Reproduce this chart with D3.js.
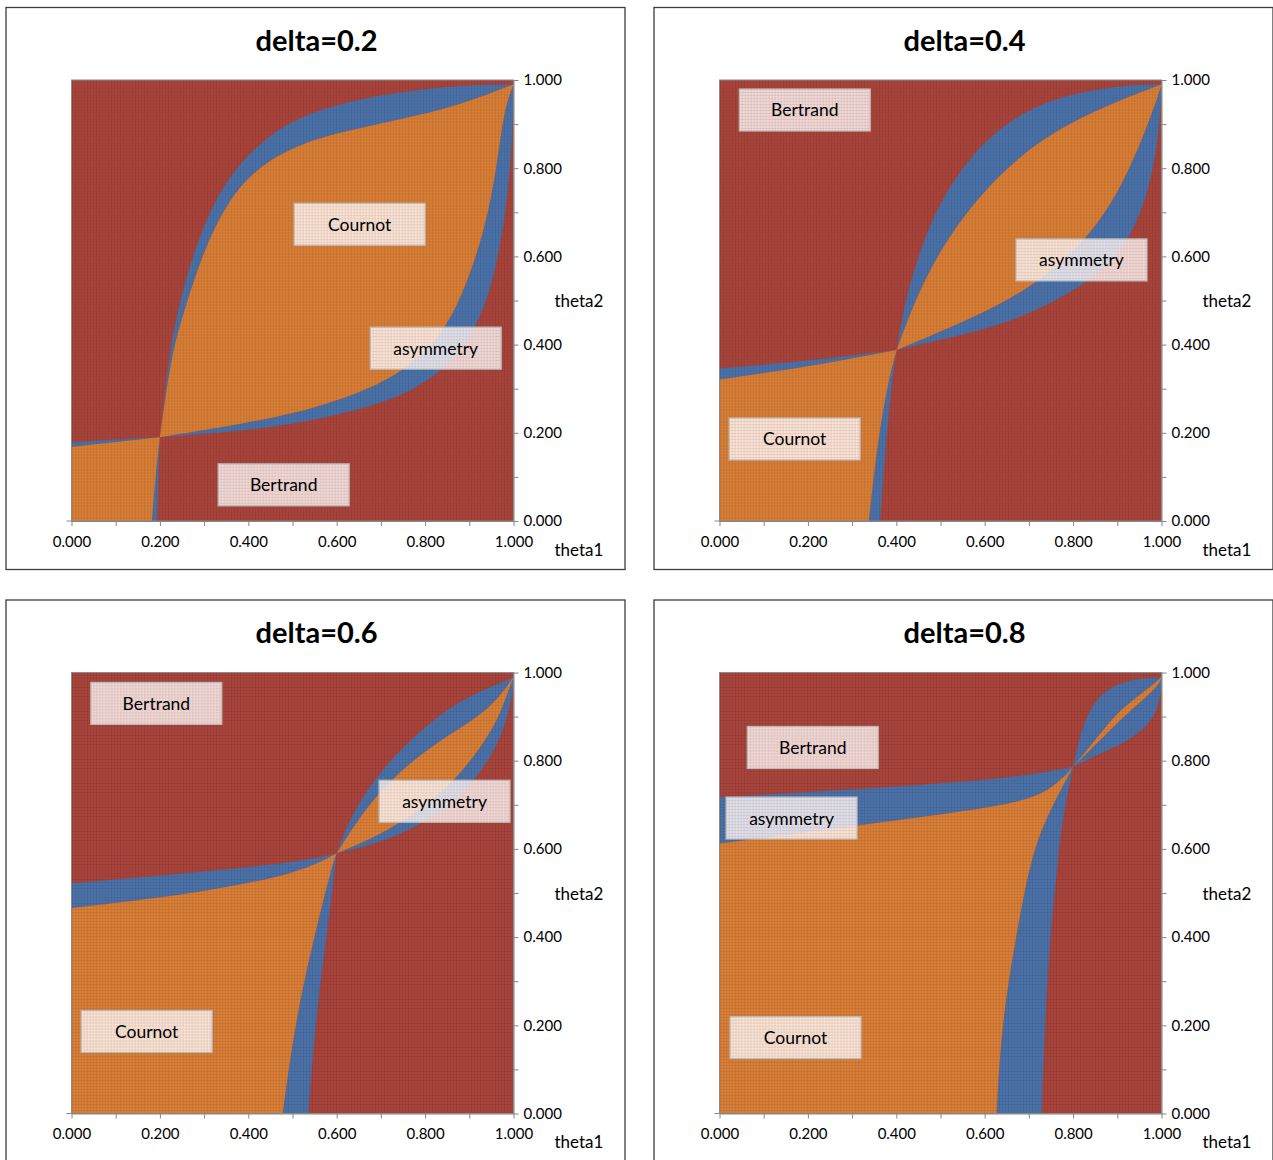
<!DOCTYPE html>
<html>
<head>
<meta charset="utf-8">
<script src="https://cdn.jsdelivr.net/npm/d3@7"></script>
<style>
  body { margin: 0; background: #fff; }
  svg text { font-family: Lato, 'Open Sans', sans-serif; fill: #000; }
</style>
</head>
<body>
<svg id="chart" width="1273" height="1160"></svg>
<script>
const titles = ['delta=0.2', 'delta=0.4', 'delta=0.6', 'delta=0.8'];
const axisTicks = [0, 0.1, 0.2, 0.3, 0.4, 0.5, 0.6, 0.7, 0.8, 0.9, 1.0];
const axisLabelTicks = [0, 0.2, 0.4, 0.6, 0.8, 1.0];
const regionNames = ['Cournot', 'asymmetry', 'Bertrand'];

// band edges, [theta1, theta2]
// row band: from theta1 = 0 through the crossing to the top right corner
// col band: from theta2 = 0 through the crossing to the top right corner
const d02Cross = [0.2, 0.19];
const d02RowLow = [[0, 0.168], [0.1, 0.179], [0.2, 0.19], [0.4, 0.205], [0.55, 0.228], [0.7, 0.265], [0.8, 0.31], [0.88, 0.38], [0.93, 0.47], [0.96, 0.57], [0.983, 0.7], [0.997, 0.85], [1, 0.99]];
const d02RowHigh = [[0, 0.178], [0.1, 0.185], [0.2, 0.19], [0.4, 0.222], [0.55, 0.255], [0.68, 0.3], [0.78, 0.36], [0.85, 0.44], [0.895, 0.54], [0.935, 0.66], [0.962, 0.8], [0.978, 0.93], [1, 0.99]];
const d02ColLeft = [[0.182, 0], [0.19, 0.1], [0.2, 0.19], [0.212, 0.3], [0.225, 0.4], [0.245, 0.5], [0.28, 0.62], [0.32, 0.72], [0.37, 0.8], [0.44, 0.87], [0.52, 0.92], [0.64, 0.955], [0.76, 0.975], [0.88, 0.988], [1, 0.99]];
const d02ColRight = [[0.193, 0], [0.197, 0.1], [0.2, 0.19], [0.215, 0.3], [0.232, 0.4], [0.262, 0.5], [0.295, 0.6], [0.335, 0.69], [0.38, 0.76], [0.44, 0.815], [0.52, 0.855], [0.6, 0.88], [0.74, 0.91], [0.87, 0.94], [1, 0.99]];

const d04Cross = [0.401, 0.388];
const d04RowLow = [[0, 0.321], [0.198, 0.349], [0.401, 0.388], [0.521, 0.415], [0.634, 0.444], [0.747, 0.49], [0.86, 0.558], [0.928, 0.637], [0.973, 0.75], [0.996, 0.887], [1, 0.99]];
const d04RowHigh = [[0, 0.346], [0.198, 0.362], [0.401, 0.388], [0.521, 0.438], [0.634, 0.49], [0.747, 0.558], [0.86, 0.671], [0.928, 0.796], [0.973, 0.909], [0.996, 0.975], [1, 0.99]];
const d04ColLeft = [[0.338, 0], [0.356, 0.168], [0.382, 0.32], [0.401, 0.388], [0.42, 0.501], [0.454, 0.615], [0.499, 0.728], [0.578, 0.841], [0.657, 0.909], [0.747, 0.955], [0.838, 0.977], [0.928, 0.989], [1, 0.99]];
const d04ColRight = [[0.363, 0], [0.376, 0.168], [0.39, 0.32], [0.401, 0.388], [0.442, 0.501], [0.499, 0.615], [0.578, 0.728], [0.691, 0.841], [0.804, 0.909], [0.906, 0.955], [1, 0.99]];

const d06Cross = [0.6, 0.59];
const d06RowLow = [[0, 0.466], [0.291, 0.5], [0.517, 0.545], [0.6, 0.59], [0.698, 0.613], [0.788, 0.654], [0.856, 0.699], [0.913, 0.756], [0.958, 0.824], [0.985, 0.891], [0.999, 0.959], [1, 0.99]];
const d06RowHigh = [[0, 0.522], [0.291, 0.548], [0.517, 0.57], [0.6, 0.59], [0.698, 0.631], [0.788, 0.688], [0.856, 0.744], [0.913, 0.812], [0.958, 0.88], [0.981, 0.937], [1, 0.99]];
const d06ColLeft = [[0.478, 0], [0.494, 0.122], [0.52, 0.274], [0.555, 0.424], [0.589, 0.56], [0.6, 0.59], [0.619, 0.643], [0.653, 0.71], [0.698, 0.774], [0.754, 0.835], [0.822, 0.896], [0.89, 0.941], [0.958, 0.971], [1, 0.99]];
const d06ColRight = [[0.536, 0], [0.545, 0.122], [0.56, 0.274], [0.58, 0.424], [0.6, 0.59], [0.66, 0.685], [0.718, 0.752], [0.79, 0.815], [0.86, 0.862], [0.92, 0.9], [0.965, 0.94], [1, 0.99]];

const d08Cross = [0.8, 0.786];
const d08RowLow = [[0, 0.612], [0.522, 0.68], [0.672, 0.704], [0.748, 0.731], [0.8, 0.786], [0.823, 0.797], [0.861, 0.816], [0.913, 0.839], [0.958, 0.869], [0.989, 0.907], [1, 0.96], [1, 0.99]];
const d08RowHigh = [[0, 0.717], [0.522, 0.748], [0.672, 0.764], [0.748, 0.776], [0.8, 0.786], [0.876, 0.861], [0.913, 0.899], [0.958, 0.937], [0.996, 0.974], [1, 0.99]];
const d08ColLeft = [[0.627, 0], [0.638, 0.198], [0.668, 0.386], [0.691, 0.507], [0.706, 0.575], [0.732, 0.658], [0.8, 0.786], [0.808, 0.824], [0.823, 0.884], [0.853, 0.944], [0.898, 0.974], [0.943, 0.986], [0.989, 0.988], [1, 0.99]];
const d08ColRight = [[0.729, 0], [0.736, 0.198], [0.747, 0.386], [0.759, 0.507], [0.766, 0.575], [0.774, 0.658], [0.8, 0.786], [0.861, 0.861], [0.898, 0.907], [0.943, 0.944], [0.989, 0.978], [1, 0.99]];

const panels = [
  { title: titles[0], cross: d02Cross, rowLow: d02RowLow, rowHigh: d02RowHigh, colLeft: d02ColLeft, colRight: d02ColRight },
  { title: titles[1], cross: d04Cross, rowLow: d04RowLow, rowHigh: d04RowHigh, colLeft: d04ColLeft, colRight: d04ColRight },
  { title: titles[2], cross: d06Cross, rowLow: d06RowLow, rowHigh: d06RowHigh, colLeft: d06ColLeft, colRight: d06ColRight },
  { title: titles[3], cross: d08Cross, rowLow: d08RowLow, rowHigh: d08RowHigh, colLeft: d08ColLeft, colRight: d08ColRight }
];

// layout: centre of each label box in (theta1, theta2)
const labelSpots = [
  { Cournot: [0.652, 0.673], asymmetry: [0.824, 0.392], Bertrand: [0.48, 0.082] },
  { Bertrand: [0.193, 0.932], asymmetry: [0.819, 0.592], Cournot: [0.17, 0.186] },
  { Bertrand: [0.192, 0.93], asymmetry: [0.844, 0.708], Cournot: [0.17, 0.186] },
  { Bertrand: [0.211, 0.83], asymmetry: [0.163, 0.67], Cournot: [0.172, 0.172] }
];

const panelOrigins = [[6, 7.5], [654, 7.5], [6, 600], [654, 600]];
const panelW = 619;
const panelH = 562;
const plotL = 65.5;
const plotT = 72.5;
const plotW = 442;
const plotH = 441;
const colors = { Bertrand: '#a8443b', Cournot: '#d87e36', asymmetry: '#4a71a8' };

const svg = d3.select('#chart');
const defs = svg.append('defs');

const tex = defs
  .append('pattern')
  .attr('id', 'tex')
  .attr('width', 3)
  .attr('height', 3)
  .attr('patternUnits', 'userSpaceOnUse');
tex
  .append('path')
  .attr('d', 'M0,0.5H3M0.5,0V3')
  .attr('stroke', 'rgba(0,0,0,0.06)')
  .attr('stroke-width', 1);

const boxTex = defs
  .append('pattern')
  .attr('id', 'boxtex')
  .attr('width', 3)
  .attr('height', 3)
  .attr('patternUnits', 'userSpaceOnUse');
boxTex
  .append('path')
  .attr('d', 'M0,0.5H3M0.5,0V3')
  .attr('stroke', 'rgba(190,120,110,0.18)')
  .attr('stroke-width', 1);

const joinPaths = parts => parts.map((p, k) => (k ? p.replace(/^M/, 'L') : p)).join('') + 'Z';

function drawPanel(cfg, i) {
  const [ox, oy] = panelOrigins[i];
  const g = svg.append('g').attr('transform', `translate(${ox},${oy})`);

  g.append('rect')
    .attr('x', 0)
    .attr('y', 0)
    .attr('width', panelW)
    .attr('height', panelH)
    .attr('fill', '#fff')
    .attr('stroke', '#3c3c3c')
    .attr('stroke-width', 1.3);

  g.append('text')
    .attr('x', panelW / 2 + 1)
    .attr('y', 43)
    .attr('text-anchor', 'middle')
    .attr('font-size', 29)
    .attr('font-weight', 'bold')
    .text(cfg.title);

  const x = d3.scaleLinear().domain([0, 1]).range([plotL, plotL + plotW]);
  const y = d3.scaleLinear().domain([0, 1]).range([plotT + plotH, plotT]);

  const clipId = 'clip' + i;
  defs
    .append('clipPath')
    .attr('id', clipId)
    .append('rect')
    .attr('x', plotL)
    .attr('y', plotT)
    .attr('width', plotW)
    .attr('height', plotH);

  const plot = g.append('g').attr('clip-path', `url(#${clipId})`);
  const line = d3
    .line()
    .x(d => x(d[0]))
    .y(d => y(d[1]))
    .curve(d3.curveBasis);

  const [cx, cy] = cfg.cross;
  // smooth each edge separately on both sides of the crossing so the pinch stays sharp
  const pieces = pts => {
    const k = pts.findIndex(d => d[0] === cx && d[1] === cy);
    if (k <= 0 || k >= pts.length - 1) return [line(pts)];
    return [line(pts.slice(0, k + 1)), line(pts.slice(k))];
  };

  plot
    .append('rect')
    .attr('x', plotL)
    .attr('y', plotT)
    .attr('width', plotW)
    .attr('height', plotH)
    .attr('fill', colors.Bertrand);

  plot
    .append('path')
    .attr('fill', colors.asymmetry)
    .attr('d', joinPaths([...pieces(cfg.rowLow), ...pieces(cfg.rowHigh.slice().reverse())]));

  plot
    .append('path')
    .attr('fill', colors.asymmetry)
    .attr('d', joinPaths([...pieces(cfg.colLeft), ...pieces(cfg.colRight.slice().reverse())]));

  plot
    .append('path')
    .attr('fill', colors.Cournot)
    .attr(
      'd',
      joinPaths([
        `M${x(0)},${y(0)}`,
        line(cfg.rowLow.filter(d => d[0] <= cx)),
        line(cfg.colLeft.filter(d => d[1] <= cy).reverse())
      ])
    );

  plot
    .append('path')
    .attr('fill', colors.Cournot)
    .attr(
      'd',
      joinPaths([
        line(cfg.rowHigh.filter(d => d[0] >= cx)),
        line(cfg.colRight.filter(d => d[1] >= cy).reverse())
      ])
    );

  plot
    .append('rect')
    .attr('x', plotL)
    .attr('y', plotT)
    .attr('width', plotW)
    .attr('height', plotH)
    .attr('fill', 'url(#tex)');

  g.append('rect')
    .attr('x', plotL)
    .attr('y', plotT)
    .attr('width', plotW)
    .attr('height', plotH)
    .attr('fill', 'none')
    .attr('stroke', '#8a8a8a')
    .attr('stroke-width', 1);

  // axes
  const yAxisG = g.append('g').attr('transform', `translate(${plotL + plotW},0)`);
  yAxisG.call(d3.axisRight(y).tickValues(axisTicks).tickSize(5).tickSizeOuter(0).tickFormat(''));
  yAxisG
    .append('g')
    .call(d3.axisRight(y).tickValues(axisLabelTicks).tickSize(0).tickPadding(10).tickFormat(d3.format('.3f')))
    .call(s => s.select('.domain').remove());

  const xAxisG = g.append('g').attr('transform', `translate(0,${plotT + plotH})`);
  xAxisG.call(d3.axisBottom(x).tickValues(axisTicks).tickSize(5).tickSizeOuter(0).tickFormat(''));
  xAxisG
    .append('g')
    .call(d3.axisBottom(x).tickValues(axisLabelTicks).tickSize(0).tickPadding(15).tickFormat(d3.format('.3f')))
    .call(s => s.select('.domain').remove());
  xAxisG
    .append('line')
    .attr('x1', plotL - 5)
    .attr('x2', plotL)
    .attr('y1', 0)
    .attr('y2', 0)
    .attr('stroke', '#868686');

  g.selectAll('.domain, .tick line').attr('stroke', '#868686');
  g.selectAll('.tick text').attr('font-size', 15).attr('font-family', 'Lato, sans-serif').attr('fill', '#000');

  g.append('text')
    .attr('x', plotL + plotW + 41)
    .attr('y', plotT + plotH / 2)
    .attr('dominant-baseline', 'central')
    .attr('font-size', 17)
    .text('theta2');

  g.append('text')
    .attr('x', plotL + plotW + 41)
    .attr('y', plotT + plotH + 28)
    .attr('dominant-baseline', 'central')
    .attr('font-size', 17)
    .text('theta1');

  // region labels
  const spots = labelSpots[i];
  const boxes = g
    .selectAll('g.region-label')
    .data(regionNames)
    .join('g')
    .attr('class', 'region-label')
    .attr('transform', d => `translate(${x(spots[d][0])},${y(spots[d][1])})`);

  boxes
    .append('rect')
    .attr('x', -65.5)
    .attr('y', -21)
    .attr('width', 131)
    .attr('height', 42)
    .attr('fill', 'rgba(255,255,255,0.8)')
    .attr('stroke', '#b9b9b9')
    .attr('stroke-width', 1.2);

  boxes
    .append('rect')
    .attr('x', -65)
    .attr('y', -20.5)
    .attr('width', 130)
    .attr('height', 41)
    .attr('fill', 'url(#boxtex)');

  boxes
    .append('text')
    .attr('text-anchor', 'middle')
    .attr('dominant-baseline', 'central')
    .attr('font-size', 17.5)
    .text(d => d);
}

panels.forEach(drawPanel);
</script>
</body>
</html>
